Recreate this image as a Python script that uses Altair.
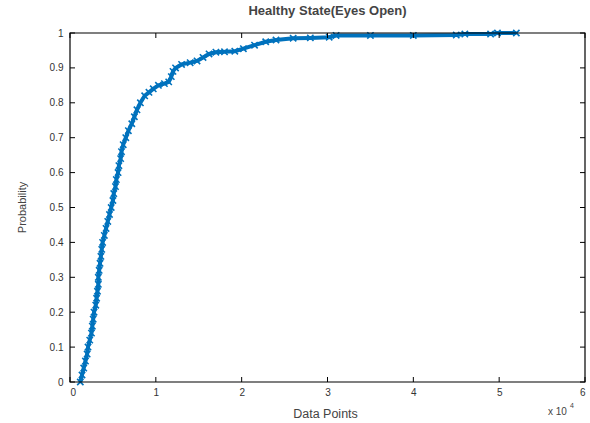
import altair as alt
import pandas as pd

x_vals = [0.12, 0.14, 0.16, 0.18, 0.20, 0.21, 0.23, 0.25, 0.26, 0.27,
          0.28, 0.30, 0.31, 0.32, 0.33, 0.33, 0.34, 0.35, 0.36, 0.37,
          0.38, 0.40, 0.42, 0.44, 0.46, 0.48, 0.50, 0.51, 0.53, 0.54,
          0.56, 0.57, 0.59, 0.60, 0.62, 0.65, 0.68, 0.72, 0.75, 0.78,
          0.82, 0.87, 0.92, 0.97, 1.03, 1.10, 1.15, 1.18, 1.20, 1.23,
          1.30, 1.40, 1.48, 1.55, 1.62, 1.70, 1.80, 1.92, 2.02, 2.15,
          2.28, 2.40, 2.60, 2.80, 3.02, 3.10, 3.50, 4.00, 4.50, 4.60,
          4.90, 4.98, 5.20]
p_vals = [0.00, 0.02, 0.04, 0.06, 0.08, 0.10, 0.12, 0.14, 0.16, 0.18,
          0.20, 0.22, 0.24, 0.26, 0.28, 0.30, 0.32, 0.34, 0.36, 0.38,
          0.40, 0.42, 0.44, 0.46, 0.48, 0.50, 0.52, 0.54, 0.56, 0.58,
          0.60, 0.62, 0.64, 0.66, 0.68, 0.70, 0.72, 0.74, 0.76, 0.78,
          0.80, 0.82, 0.83, 0.84, 0.85, 0.855, 0.86, 0.875, 0.89, 0.90,
          0.91, 0.915, 0.92, 0.93, 0.94, 0.945, 0.946, 0.948, 0.955, 0.965,
          0.975, 0.98, 0.985, 0.986, 0.988, 0.993, 0.993, 0.993, 0.994, 0.997,
          0.997, 1.0, 1.0]

x_ticks = [0, 1, 2, 3, 4, 5, 6]
y_ticks = [0, 0.1, 0.2, 0.3, 0.4, 0.5, 0.6, 0.7, 0.8, 0.9, 1]

title_text = "Healthy State(Eyes Open)"
x_title = "Data Points"
y_title = "Probability"
exp_base = "x 10"
exp_power = "4"

W, H = 515, 349
FONT = "Liberation Sans"
BLUE = "#0072BD"

df = pd.DataFrame({"x": x_vals, "p": p_vals})
xt = pd.DataFrame({"x": x_ticks})
yt = pd.DataFrame({"p": y_ticks})

xscale = alt.Scale(domain=[0, 6], nice=False, zero=False)
yscale = alt.Scale(domain=[0, 1], nice=False, zero=False)

x_axis = alt.Axis(values=x_ticks, title=x_title, tickSize=0, domain=False,
                  grid=False, labelPadding=5, labelFontSize=10, format="~g",
                  labelColor="#333", titleColor="#444",
                  titleFontSize=12.5, titleFontWeight="normal",
                  titleX=255, titleY=25, labelFont=FONT, titleFont=FONT)
y_axis = alt.Axis(values=y_ticks, title=y_title, tickSize=0, domain=False,
                  grid=False, labelPadding=7, labelFontSize=10, format="~g",
                  labelColor="#333", titleColor="#444",
                  titleFontSize=11, titleFontWeight="normal",
                  titleX=-43, titleY=174, labelFont=FONT, titleFont=FONT)

X = alt.X("x:Q", scale=xscale, axis=x_axis)
Y = alt.Y("p:Q", scale=yscale, axis=y_axis)

base = alt.Chart(df)

line = base.mark_line(color=BLUE, strokeWidth=4).encode(x=X, y=Y)

pts = base.mark_point(shape="M-1,-1L1,1M1,-1L-1,1", filled=False, color=BLUE,
                      strokeWidth=1.6, size=40, opacity=1).encode(x=X, y=Y)

tick_style = dict(color="black", strokeWidth=1)
bottom_ticks = alt.Chart(xt).mark_rule(**tick_style).encode(
    x=X, y=alt.value(H), y2=alt.value(H - 5))
top_ticks = alt.Chart(xt).mark_rule(**tick_style).encode(
    x=X, y=alt.value(0), y2=alt.value(5))
left_ticks = alt.Chart(yt).mark_rule(**tick_style).encode(
    y=Y, x=alt.value(0), x2=alt.value(5))
right_ticks = alt.Chart(yt).mark_rule(**tick_style).encode(
    y=Y, x=alt.value(W), x2=alt.value(W - 5))

frame = alt.Chart(pd.DataFrame({"k": [0]})).mark_rect(
    fill=None, fillOpacity=0, stroke="black", strokeWidth=1.2).encode(
    x=alt.value(0), x2=alt.value(W), y=alt.value(0), y2=alt.value(H))

exp_df = pd.DataFrame({"b": [exp_base], "e": [exp_power]})
exp_base_txt = alt.Chart(exp_df).mark_text(
    font=FONT, fontSize=10, color="#444", align="left", baseline="middle").encode(
    text="b:N", x=alt.value(W - 37), y=alt.value(H + 30))
exp_pow_txt = alt.Chart(exp_df).mark_text(
    font=FONT, fontSize=7, color="#444", align="left", baseline="middle").encode(
    text="e:N", x=alt.value(W - 15), y=alt.value(H + 24))

chart = alt.layer(
    line, pts, frame, bottom_ticks, top_ticks, left_ticks, right_ticks,
    exp_base_txt, exp_pow_txt
).properties(
    width=W, height=H,
    title=alt.TitleParams(title_text, font=FONT, fontSize=13, fontWeight="bold",
                          color="#444", anchor="middle", offset=7),
    autosize=alt.AutoSizeParams(type="none"),
    padding={"left": 70, "top": 33, "right": 5, "bottom": 41},
).configure(
    background="white",
    view=alt.ViewConfig(stroke=None),
)

chart.save("out.html", embed_options={"renderer": "svg", "actions": False})
